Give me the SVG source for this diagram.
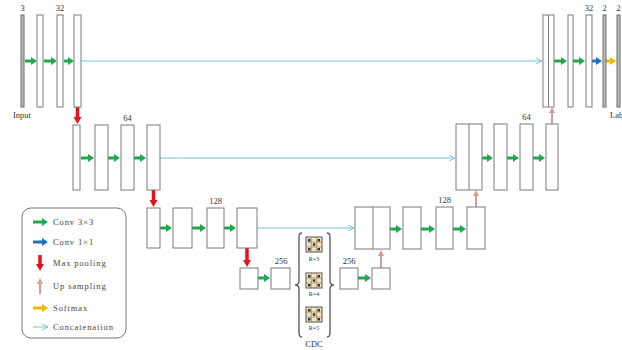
<svg xmlns="http://www.w3.org/2000/svg" width="622" height="350" viewBox="0 0 622 350">
<style>
.b{fill:#fff;stroke:#7a7a7a;stroke-width:1}
.t{fill:#bdbdbd;stroke:#6a6a6a;stroke-width:1}
.sp{stroke:#7a7a7a;stroke-width:1}
.g{stroke:#22a652;stroke-width:3;marker-end:url(#hg)}
.bl{stroke:#1f6fc0;stroke-width:3;marker-end:url(#hb)}
.y{stroke:#f2b705;stroke-width:3;marker-end:url(#hy)}
.r{stroke:#e3131b;stroke-width:3.5;marker-end:url(#hr)}
.p{stroke:#d99a9a;stroke-width:2;marker-end:url(#hp)}
.c{stroke:#7cc0d4;stroke-width:1;fill:none;marker-end:url(#hc)}
text{font-family:"Liberation Serif",serif;font-size:8.5px;fill:#333}
.lg{font-family:"Liberation Serif",serif;font-size:8.5px;letter-spacing:0.9px;fill:#444}
.br{fill:none;stroke:#555;stroke-width:1.3}
</style>
<defs>
<marker id="hg" markerWidth="6" markerHeight="8" refX="0" refY="4" orient="auto" markerUnits="userSpaceOnUse"><path d="M0,0 L6,4 L0,8 z" fill="#22a652"/></marker>
<marker id="hb" markerWidth="6" markerHeight="8" refX="0" refY="4" orient="auto" markerUnits="userSpaceOnUse"><path d="M0,0 L6,4 L0,8 z" fill="#1f6fc0"/></marker>
<marker id="hy" markerWidth="6" markerHeight="8" refX="0" refY="4" orient="auto" markerUnits="userSpaceOnUse"><path d="M0,0 L6,4 L0,8 z" fill="#f2b705"/></marker>
<marker id="hr" markerWidth="7" markerHeight="8" refX="0" refY="4" orient="auto" markerUnits="userSpaceOnUse"><path d="M0,0 L7,4 L0,8 z" fill="#e3131b"/></marker>
<marker id="hp" markerWidth="6" markerHeight="6" refX="0" refY="3" orient="auto" markerUnits="userSpaceOnUse"><path d="M0,0 L6,3 L0,6 z" fill="#d99a9a"/></marker>
<marker id="hc" markerWidth="6" markerHeight="6" refX="6" refY="3" orient="auto" markerUnits="userSpaceOnUse"><path d="M0,0 L6,3 L0,6" fill="none" stroke="#7cc0d4" stroke-width="1"/></marker>
<g id="cdcb">
<rect x="0" y="0" width="16" height="15" fill="#efe2bd" stroke="#555" stroke-width="1"/>
<path d="M5.3,0 V15 M10.7,0 V15 M0,5 H16 M0,10 H16" stroke="#8a7a55" stroke-width="0.6"/>
<rect x="2" y="2" width="2.5" height="2.5" fill="#333"/><rect x="11.5" y="2" width="2.5" height="2.5" fill="#333"/>
<rect x="6.8" y="6.3" width="2.5" height="2.5" fill="#333"/>
<rect x="2" y="11" width="2.5" height="2.5" fill="#333"/><rect x="11.5" y="11" width="2.5" height="2.5" fill="#333"/>
</g>
</defs>

<g id="connectors">
<line class="c" x1="81" y1="61" x2="542" y2="61"/>
<line class="c" x1="160" y1="158" x2="455" y2="158"/>
<line class="c" x1="257" y1="228" x2="354" y2="228"/>
<line class="g" x1="25" y1="61" x2="31" y2="61"/>
<line class="g" x1="44" y1="61" x2="51" y2="61"/>
<line class="g" x1="64" y1="61" x2="68" y2="61"/>
<line class="r" x1="77.5" y1="107" x2="77.5" y2="117"/>
<line class="g" x1="81" y1="158" x2="88" y2="158"/>
<line class="g" x1="108" y1="158" x2="114" y2="158"/>
<line class="g" x1="134" y1="158" x2="140" y2="158"/>
<line class="r" x1="153.5" y1="190" x2="153.5" y2="200"/>
<line class="g" x1="160" y1="228" x2="166" y2="228"/>
<line class="g" x1="192" y1="228" x2="200" y2="228"/>
<line class="g" x1="224" y1="228" x2="230" y2="228"/>
<line class="r" x1="247" y1="248" x2="247" y2="260"/>
<line class="g" x1="258" y1="278" x2="264" y2="278"/>
<line class="g" x1="358" y1="278" x2="365" y2="278"/>
<line class="p" x1="381" y1="268" x2="381" y2="256"/>
<line class="g" x1="390" y1="229" x2="396" y2="229"/>
<line class="g" x1="421" y1="229" x2="429" y2="229"/>
<line class="g" x1="453" y1="229" x2="460" y2="229"/>
<line class="p" x1="476" y1="207" x2="476" y2="196"/>
<line class="g" x1="482" y1="158" x2="487" y2="158"/>
<line class="g" x1="507" y1="158" x2="513" y2="158"/>
<line class="g" x1="533" y1="158" x2="539" y2="158"/>
<line class="p" x1="552" y1="124" x2="552" y2="113"/>
<line class="g" x1="554" y1="61" x2="561" y2="61"/>
<line class="g" x1="573" y1="61" x2="579" y2="61"/>
<line class="bl" x1="592" y1="61" x2="596" y2="61"/>
<line class="y" x1="606" y1="61" x2="610" y2="61"/>
</g>

<g id="enc1">
<rect class="t" x="21" y="15" width="3" height="92"/>
<rect class="b" x="37" y="15" width="6" height="92"/>
<rect class="b" x="57" y="15" width="6" height="92"/>
<rect class="b" x="74" y="15" width="7" height="92"/>
<text x="22.5" y="11" text-anchor="middle">3</text>
<text x="60" y="11" text-anchor="middle">32</text>
<text x="22" y="118" text-anchor="middle">Input</text>
</g>
<g id="enc2">
<rect class="b" x="73" y="125" width="7" height="65"/>
<rect class="b" x="95" y="125" width="13" height="65"/>
<rect class="b" x="121" y="125" width="13" height="65"/>
<rect class="b" x="147" y="125" width="13" height="65"/>
<text x="127.5" y="121" text-anchor="middle">64</text>
</g>
<g id="enc3">
<rect class="b" x="147" y="208" width="13" height="40"/>
<rect class="b" x="173" y="208" width="19" height="40"/>
<rect class="b" x="207" y="208" width="17" height="40"/>
<rect class="b" x="237" y="208" width="20" height="40"/>
<text x="215.5" y="204" text-anchor="middle">128</text>
</g>
<g id="bottom-enc">
<rect class="b" x="240" y="268" width="18" height="21"/>
<rect class="b" x="271" y="268" width="19" height="21"/>
<text x="281" y="264" text-anchor="middle">256</text>
</g>
<g id="cdc">
<path class="br" d="M302,233 Q299,233 299,237 L299,281 Q299,285 295,285 Q299,285 299,289 L299,333 Q299,337 302,337"/>
<path class="br" d="M327,233 Q330,233 330,237 L330,281 Q330,285 334,285 Q330,285 330,289 L330,333 Q330,337 327,337"/>
<use href="#cdcb" x="306" y="237"/>
<use href="#cdcb" x="306" y="273"/>
<use href="#cdcb" x="306" y="307"/>
<text x="314" y="261" text-anchor="middle" style="font-size:6px">R=3</text>
<text x="314" y="296" text-anchor="middle" style="font-size:6px">R=4</text>
<text x="314" y="330" text-anchor="middle" style="font-size:6px">R=5</text>
<text x="314" y="347" text-anchor="middle">CDC</text>
</g>
<g id="bottom-dec">
<rect class="b" x="340" y="268" width="18" height="21"/>
<rect class="b" x="372" y="268" width="18" height="21"/>
<text x="349" y="264" text-anchor="middle">256</text>
</g>
<g id="dec3">
<rect class="b" x="355" y="207" width="35" height="42"/>
<line class="sp" x1="373" y1="207" x2="373" y2="249"/>
<rect class="b" x="403" y="207" width="18" height="42"/>
<rect class="b" x="436" y="207" width="17" height="42"/>
<rect class="b" x="467" y="207" width="18" height="42"/>
<text x="444.5" y="203" text-anchor="middle">128</text>
</g>
<g id="dec2">
<rect class="b" x="456" y="124" width="26" height="66"/>
<line class="sp" x1="469" y1="124" x2="469" y2="190"/>
<rect class="b" x="494" y="124" width="13" height="66"/>
<rect class="b" x="520" y="124" width="13" height="66"/>
<rect class="b" x="546" y="124" width="12" height="66"/>
<text x="526.5" y="120" text-anchor="middle">64</text>
</g>
<g id="dec1">
<rect class="b" x="543" y="15" width="11" height="92"/>
<line class="sp" x1="548.5" y1="15" x2="548.5" y2="107"/>
<rect class="b" x="568" y="15" width="5" height="92"/>
<rect class="b" x="586" y="15" width="6" height="92"/>
<rect class="t" x="603" y="15" width="3" height="92"/>
<rect class="t" x="617" y="15" width="3" height="92"/>
<text x="589" y="11" text-anchor="middle">32</text>
<text x="604.5" y="11" text-anchor="middle">2</text>
<text x="618.5" y="11" text-anchor="middle">2</text>
<text x="610" y="118">Lab</text>
</g>
<g id="legend">
<rect x="22" y="208" width="104" height="130" rx="9" fill="#fff" stroke="#777" stroke-width="1"/>
<line class="g" x1="33" y1="222" x2="42" y2="222"/>
<line class="bl" x1="33" y1="242" x2="42" y2="242"/>
<line class="r" x1="40" y1="255" x2="40" y2="264"/>
<line class="p" x1="40" y1="294" x2="40" y2="284"/>
<line class="y" x1="33" y1="308" x2="42" y2="308"/>
<line class="c" x1="33" y1="327" x2="48" y2="327"/>
<text class="lg" x="53" y="225">Conv 3×3</text>
<text class="lg" x="53" y="245">Conv 1×1</text>
<text class="lg" x="53" y="266">Max pooling</text>
<text class="lg" x="53" y="289">Up sampling</text>
<text class="lg" x="53" y="311">Softmax</text>
<text class="lg" x="53" y="330">Concatenation</text>
</g>
</svg>
